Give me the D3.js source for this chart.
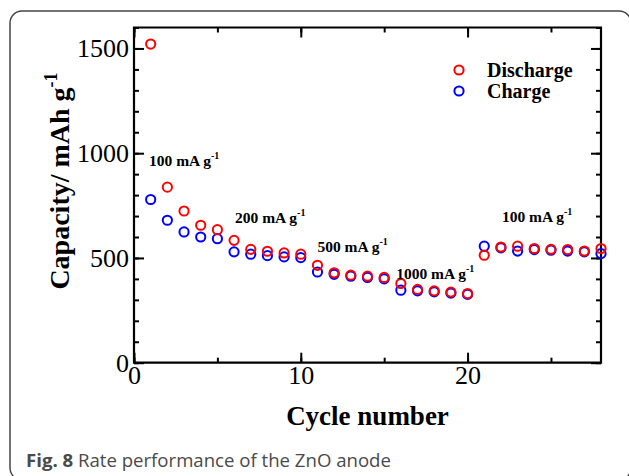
<!DOCTYPE html>
<html>
<head>
<meta charset="utf-8">
<script src="https://cdn.jsdelivr.net/npm/d3@7"></script>
<style>
html,body{margin:0;padding:0;background:#fff;}
svg{display:block;}
</style>
</head>
<body>
<svg id="chart" width="629" height="476"></svg>
<script>
// ---- data ----
const cycles = [1,2,3,4,5,6,7,8,9,10,11,12,13,14,15,16,17,18,19,20,21,22,23,24,25,26,27,28];
const discharge = [1521,838,724,656,635,584,541,532,524,518,465,429,418,413,407,378,350,343,337,330,513,552,556,545,541,540,533,545];
const charge = [779,680,624,600,592,529,518,511,505,502,433,422,413,407,400,346,343,338,332,326,556,548,533,540,537,533,529,521];
const seriesNames = ["Discharge","Charge"];
const rateLabels = ["100 mA g","200 mA g","500 mA g","1000 mA g","100 mA g"];
const rateLabelCycle = [0.9, 6.06, 11.0, 15.72, 22.06];
const rateLabelValue = [938, 667, 530, 398, 673];
const xTickValues = [0,10,20];
const yTickValues = [0,500,1000,1500];

// ---- layout ----
const svg = d3.select("#chart");
const L = 134, R = 601, T = 27.5, B = 362.7;
const x = d3.scaleLinear().domain([0,28]).range([L,R]);
const y = d3.scaleLinear().domain([0,1600]).range([B,T]);
const serif = "'Liberation Serif','Times New Roman',serif";

// frame
svg.append("rect").attr("x",10).attr("y",11).attr("width",621).attr("height",469)
  .attr("rx",12).attr("fill","none").attr("stroke","#444").attr("stroke-width",1.5);

// axes
const g = svg.append("g");
function styleAxis(sel){
  sel.select(".domain").remove();
  sel.selectAll("line").attr("stroke","#000").attr("stroke-width",2);
}
const xMinor = d3.range(0,29,5);
const yMinor = d3.range(0,1601,100);

g.append("g").attr("transform",`translate(0,${B})`)
  .call(d3.axisBottom(x).tickValues(xMinor).tickSize(-5).tickFormat(""))
  .call(styleAxis);
g.append("g").attr("transform",`translate(0,${B})`)
  .call(d3.axisBottom(x).tickValues(xTickValues).tickSize(-10).tickPadding(14).tickFormat(d3.format("d")))
  .call(styleAxis)
  .call(s=>s.selectAll("text").attr("font-family",serif).attr("font-size",26).attr("fill","#000").attr("dy","0.71em").attr("y",3));
g.append("g").attr("transform",`translate(0,${T})`)
  .call(d3.axisTop(x).tickValues(xMinor).tickSize(-5).tickFormat(""))
  .call(styleAxis);
g.append("g").attr("transform",`translate(0,${T})`)
  .call(d3.axisTop(x).tickValues(xTickValues).tickSize(-10).tickFormat(""))
  .call(styleAxis);

g.append("g").attr("transform",`translate(${L},0)`)
  .call(d3.axisLeft(y).tickValues(yMinor).tickSize(-5).tickFormat(""))
  .call(styleAxis);
g.append("g").attr("transform",`translate(${L},0)`)
  .call(d3.axisLeft(y).tickValues(yTickValues).tickSize(-10).tickPadding(15).tickFormat(d3.format("d")))
  .call(styleAxis)
  .call(s=>s.selectAll("text").attr("font-family",serif).attr("font-size",26).attr("fill","#000").attr("x",-5));
g.append("g").attr("transform",`translate(${R},0)`)
  .call(d3.axisRight(y).tickValues(yMinor).tickSize(-5).tickFormat(""))
  .call(styleAxis);
g.append("g").attr("transform",`translate(${R},0)`)
  .call(d3.axisRight(y).tickValues(yTickValues).tickSize(-10).tickFormat(""))
  .call(styleAxis);

// axis lines (left & bottom, right & top)
svg.append("path")
  .attr("d",`M${L},${T}V${B}H${R}V${T}Z`)
  .attr("fill","none").attr("stroke","#000").attr("stroke-width",2.2);

// points
const pts = svg.append("g");
pts.selectAll("circle.c").data(cycles.map((c,i)=>[c,charge[i]])).join("circle")
  .attr("class","c").attr("cx",d=>x(d[0])).attr("cy",d=>y(d[1])).attr("r",4.6)
  .attr("fill","none").attr("stroke","#0000ff").attr("stroke-width",2);
pts.selectAll("circle.d").data(cycles.map((c,i)=>[c,discharge[i]])).join("circle")
  .attr("class","d").attr("cx",d=>x(d[0])).attr("cy",d=>y(d[1])).attr("r",4.6)
  .attr("fill","none").attr("stroke","#ff0000").attr("stroke-width",2);

// rate annotations
rateLabels.forEach((t,i)=>{
  const tx = svg.append("text").attr("x",x(rateLabelCycle[i])).attr("y",y(rateLabelValue[i]))
    .attr("font-family",serif).attr("font-weight","bold").attr("font-size",15.5).attr("fill","#000");
  tx.append("tspan").text(t);
  tx.append("tspan").attr("font-size",10).attr("dy",-7).text("-1");
});

// legend
const legColors = ["#ff0000","#0000ff"];
seriesNames.forEach((n,i)=>{
  svg.append("circle").attr("cx",459).attr("cy",70+i*21).attr("r",4.6)
    .attr("fill","none").attr("stroke",legColors[i]).attr("stroke-width",2);
  svg.append("text").attr("x",487).attr("y",77+i*21).text(n)
    .attr("font-family",serif).attr("font-weight","bold").attr("font-size",20).attr("fill","#000");
});

// axis titles
svg.append("text").attr("x",(L+R)/2).attr("y",425).attr("text-anchor","middle")
  .attr("font-family",serif).attr("font-weight","bold").attr("font-size",27).attr("fill","#000")
  .text("Cycle number");
const yl = svg.append("text").attr("transform","translate(69,181) rotate(-90)").attr("text-anchor","middle")
  .attr("font-family",serif).attr("font-weight","bold").attr("font-size",28).attr("fill","#000");
yl.append("tspan").text("Capacity/ mAh g");
yl.append("tspan").attr("font-size",18).attr("dy",-12).text("-1");

// caption
const cap = svg.append("text").attr("x",26).attr("y",467)
  .attr("font-family","'Open Sans','Noto Sans',sans-serif").attr("font-size",18.6).attr("fill","#4a4a4a");
cap.append("tspan").attr("font-weight","bold").text("Fig. 8");
cap.append("tspan").text(" Rate performance of the ZnO anode");
</script>
</body>
</html>
